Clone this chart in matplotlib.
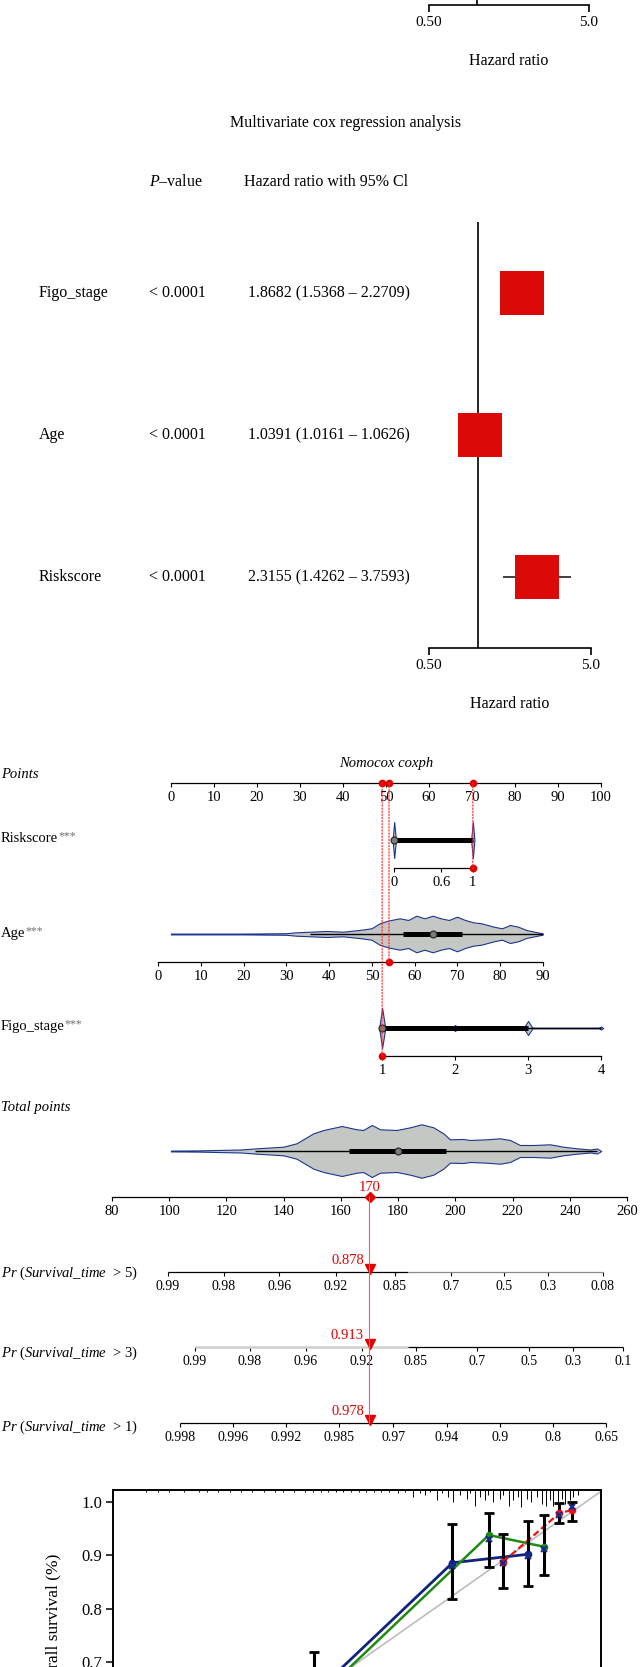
import numpy as np
import matplotlib
matplotlib.use('Agg')
import matplotlib.pyplot as plt
from matplotlib.patches import ConnectionPatch
from matplotlib.ticker import NullLocator
from matplotlib.transforms import blended_transform_factory

# forest plot (multivariate cox)
variables = ['Figo_stage', 'Age', 'Riskscore']
p_values = ['< 0.0001', '< 0.0001', '< 0.0001']
hr = [1.8682, 1.0391, 2.3155]
hr_low = [1.5368, 1.0161, 1.4262]
hr_high = [2.2709, 1.0626, 3.7593]

# nomogram scales
points_ticks = list(range(0, 101, 10))
risk_ticks = [0, 0.6, 1]
risk_range, risk_points = [0, 1], [51.9, 70.2]
age_ticks = list(range(0, 91, 10))
age_range, age_points = [0, 90], [-3.0, 86.5]
figo_ticks = [1, 2, 3, 4]
figo_range, figo_points = [1, 4], [49.1, 100.0]
total_ticks = list(range(80, 261, 20))
patient_risk, patient_age, patient_figo = 1, 54, 1
patient_total = 170

# violin outlines (value, half width) and box stats
risk_grid = [-0.02, 0.0, 0.02, 0.05, 0.95, 0.98, 1.0, 1.02]
risk_width = [0, 18, 2, 0.2, 0.2, 2, 18, 0]
risk_box = dict(q1=0, q3=1, med=0, lo=0, hi=1)
age_grid = [3, 20, 30, 32.2, 35.6, 39.4, 43.2, 47.0, 49.9, 51.8, 53.7, 56.5, 58.5, 60.4,
            62.3, 64.2, 66.1, 68.0, 69.9, 71.8, 73.7, 75.6, 78.5, 80.4, 82.3, 84.2, 86.1,
            88.0, 89.9]
age_width = [0.4, 0.4, 0.8, 1.7, 2.3, 3.0, 2.3, 4.0, 5.7, 10.7, 13.3, 15.7, 14.0, 18.3,
             15.7, 18.3, 15.7, 14.0, 17.3, 14.0, 11.7, 10.7, 7.3, 5.7, 9.0, 7.3, 4.0, 2.3, 0.7]
age_box = dict(q1=57.2, q3=71.0, med=64.3, lo=35.5, hi=90)
figo_grid = [0.96, 1.0, 1.04, 1.1, 1.96, 2.0, 2.04, 2.94, 3.0, 3.06, 3.97, 4.0, 4.03]
figo_width = [0, 20, 1.5, 0.3, 0.3, 3, 0.3, 0.3, 7, 0.3, 0.3, 1.5, 0]
figo_box = dict(q1=1, q3=3, med=1, lo=1, hi=4)
total_grid = [100.6, 110, 125, 130.6, 139.9, 144.5, 150.4, 153.9, 160.3, 165.5, 167.8,
              170.8, 173.7, 179.5, 184.2, 188.2, 192.3, 195.8, 198.1, 202.8, 205.1, 211.0,
              215.6, 219.1, 222.6, 227.3, 233.1, 237.7, 242.4, 247.1, 249.5, 251]
total_width = [0.4, 0.6, 1.5, 2.7, 4.3, 7.7, 17.7, 21, 25, 21.7, 21, 26, 21.7, 21, 23.7,
               26.7, 23.7, 17.7, 11.7, 12, 11, 11.7, 12.7, 11, 6, 6, 6.7, 4.3, 2.7, 1.5,
               2.5, 0]
total_box = dict(q1=162.8, q3=196.7, med=180, lo=130, hi=249.5)

# survival probability scales (tick label, position in total points)
pr_titles = ['5', '3', '1']
pr5_labels = ['0.99', '0.98', '0.96', '0.92', '0.85', '0.7', '0.5', '0.3', '0.08']
pr5_pos = [99.6, 119.1, 138.4, 158.3, 178.9, 198.5, 217.0, 232.4, 251.6]
pr3_labels = ['0.99', '0.98', '0.96', '0.92', '0.85', '0.7', '0.5', '0.3', '0.1']
pr3_pos = [109.0, 128.2, 147.8, 167.3, 186.2, 207.5, 225.7, 241.1, 258.6]
pr1_labels = ['0.998', '0.996', '0.992', '0.985', '0.97', '0.94', '0.9', '0.8', '0.65']
pr1_pos = [103.8, 122.3, 140.9, 159.4, 178.3, 197.1, 215.6, 234.2, 252.7]
pr_pointer = ['0.878', '0.913', '0.978']

# calibration curves
cal5_pred = [0.641, 0.824, 0.924]
cal5_obs = [0.639, 0.886, 0.902]
cal5_lo = [0.559, 0.818, 0.842]
cal5_hi = [0.719, 0.959, 0.964]
cal5_corr = [0.630, 0.880, 0.898]
cal3_pred = [0.600, 0.872, 0.945]
cal3_obs = [0.570, 0.938, 0.916]
cal3_lo = [0.490, 0.878, 0.863]
cal3_hi = [0.640, 0.979, 0.976]
cal3_corr = [0.560, 0.930, 0.912]
cal1_pred = [0.891, 0.965, 0.982]
cal1_obs = [0.888, 0.979, 0.985]
cal1_lo = [0.839, 0.961, 0.965]
cal1_hi = [0.940, 0.998, 1.000]
cal1_corr = [0.886, 0.975, 0.990]
rug_pred = [0.42, 0.435, 0.45, 0.47, 0.49, 0.50, 0.515, 0.53, 0.545, 0.56, 0.575, 0.59,
            0.60, 0.615, 0.63, 0.64, 0.65, 0.66, 0.67, 0.68, 0.69, 0.70, 0.71, 0.72, 0.73,
            0.74, 0.752, 0.761, 0.772, 0.781, 0.788, 0.794, 0.803, 0.810, 0.818, 0.825,
            0.834, 0.843, 0.847, 0.854, 0.860, 0.867, 0.871, 0.878, 0.887, 0.891, 0.898,
            0.904, 0.911, 0.915, 0.922, 0.928, 0.935, 0.942, 0.948, 0.953, 0.957, 0.963,
            0.968, 0.972, 0.979, 0.983, 0.990]
rug_n = [1] * 26 + [2, 1, 4, 2, 3, 1, 6, 2, 4, 7, 3, 5, 2, 9, 4, 6, 3, 7, 5, 3, 9, 6, 4,
                    10, 5, 7, 4, 8, 9, 6, 9, 7, 5, 8, 6, 4, 3]

W, H = 640, 1667
RED = '#e00000'
plt.rcParams['font.family'] = ['Liberation Serif', 'DejaVu Serif']
plt.rcParams['mathtext.fontset'] = 'custom'
plt.rcParams['mathtext.rm'] = 'Liberation Serif'
plt.rcParams['mathtext.it'] = 'Liberation Serif:italic'

fig = plt.figure(figsize=(W / 100, H / 100), dpi=100)


def px_ax(x0, y0, x1, y1):
    ax = fig.add_axes([x0 / W, 1 - y1 / H, (x1 - x0) / W, (y1 - y0) / H])
    ax.patch.set_alpha(0)
    return ax


def fy(y):
    return 1 - y / H


def forest_axis(ax):
    ax.set_xscale('log')
    ax.set_xlim(0.5, 5)
    for s in ['top', 'right', 'left']:
        ax.spines[s].set_visible(False)
    ax.spines['bottom'].set_linewidth(1.2)
    ax.set_xticks([0.5, 5])
    ax.set_xticklabels(['0.50', '5.0'])
    ax.xaxis.set_minor_locator(NullLocator())
    ax.tick_params(axis='x', direction='out', length=5, width=1.2, labelsize=11, pad=3)
    ax.set_yticks([])
    ax.axvline(1, color='black', lw=1.2)
    ax.set_xlabel('Hazard ratio', fontsize=11.5, labelpad=17)


# tail of the previous forest plot
ax_a = px_ax(429, -60, 589, 5)
forest_axis(ax_a)

# multivariate forest plot
ax_b = px_ax(429, 222, 591, 648)
forest_axis(ax_b)
rows = np.arange(len(variables))
ax_b.set_ylim(len(variables) - 0.5, -0.5)
ax_b.hlines(rows, hr_low, hr_high, color='#404040', lw=1.4, zorder=2)
ax_b.plot(hr, rows, 's', ms=31.5, color='#dc0909', mew=0, zorder=3, linestyle='none')

fig.text(346 / W, fy(123), 'Multivariate cox regression analysis', ha='center', va='center',
         fontsize=11.5)
fig.text(149 / W, fy(182), r'$\mathit{P}$–value', ha='left', va='center', fontsize=11.5)
fig.text(244 / W, fy(182), 'Hazard ratio with 95% Cl', ha='left', va='center', fontsize=11.5)
tr = blended_transform_factory(fig.transFigure, ax_b.transData)
for i, name in enumerate(variables):
    ax_b.text(39 / W, i, name, transform=tr, ha='left', va='center', fontsize=11.5)
    ax_b.text(149 / W, i, p_values[i], transform=tr, ha='left', va='center', fontsize=11.5)
    ax_b.text(248 / W, i, f'{hr[i]:.4f} ({hr_low[i]:.4f} – {hr_high[i]:.4f})', transform=tr,
              ha='left', va='center', fontsize=11.5)

# nomogram
PTS_X0, PTS_X1 = 171, 601


def pts_px(p):
    return PTS_X0 + p * (PTS_X1 - PTS_X0) / 100.0


def nomo_axis(ax, lo, hi, ticks, labels=None, size=10.5):
    for s in ['top', 'right', 'left']:
        ax.spines[s].set_visible(False)
    ax.spines['bottom'].set_linewidth(0.9)
    ax.spines['bottom'].set_bounds(lo, hi)
    ax.set_xticks(ticks)
    ax.set_xticklabels(labels if labels is not None else [str(t) for t in ticks])
    ax.tick_params(axis='x', direction='out', length=3, width=0.8, labelsize=size, pad=2.5)
    ax.set_yticks([])


def nomo_row(y_axis, rng, pts, ticks, below=28, above=22):
    ax = px_ax(pts_px(pts[0]), y_axis - below - above, pts_px(pts[1]), y_axis)
    ax.set_xlim(rng[0], rng[1])
    ax.set_ylim(-below, above)
    nomo_axis(ax, rng[0], rng[1], ticks)
    return ax


def violin(ax, grid, width, box):
    w = np.array(width)
    ax.fill_between(grid, -w, w, facecolor='#c5c7c4', edgecolor='#1b3690', lw=0.8,
                    clip_on=False, zorder=2)
    ax.hlines(0, box['lo'], box['hi'], color='black', lw=1.0, zorder=3, clip_on=False)
    ax.hlines(0, box['q1'], box['q3'], color='black', lw=3.6, zorder=3, clip_on=False)
    ax.plot(box['med'], 0, 'o', ms=5, mfc='#7d7d7d', mec='#202020', mew=0.8, zorder=4,
            clip_on=False)


ax_pts = nomo_row(783, [0, 100], [0, 100], points_ticks, below=0, above=20)
fig.text(pts_px(50) / W, fy(763), 'Nomocox coxph', ha='center', va='center', fontsize=10.5,
         style='italic')

ax_risk = nomo_row(868, risk_range, risk_points, risk_ticks)
violin(ax_risk, risk_grid, risk_width, risk_box)
ax_age = nomo_row(962, age_range, age_points, age_ticks)
violin(ax_age, age_grid, age_width, age_box)
ax_figo = nomo_row(1056, figo_range, figo_points, figo_ticks)
violin(ax_figo, figo_grid, figo_width, figo_box)

for val, ax_v, rng, pts in [(patient_risk, ax_risk, risk_range, risk_points),
                            (patient_age, ax_age, age_range, age_points),
                            (patient_figo, ax_figo, figo_range, figo_points)]:
    p = np.interp(val, rng, pts)
    y0 = ax_v.get_ylim()[0]
    con = ConnectionPatch(xyA=(p, 0), coordsA=ax_pts.transData, xyB=(val, y0),
                          coordsB=ax_v.transData, color='#ff3030', ls=(0, (1, 1.5)), lw=0.9,
                          zorder=1)
    fig.add_artist(con)
    ax_pts.plot(p, 0, 'o', ms=4.5, color=RED, clip_on=False, zorder=5)
    ax_v.plot(val, y0, 'o', ms=4.5, color=RED, clip_on=False, zorder=5)

# total points
ax_tot = px_ax(112, 1197 - 87, 627, 1197)
ax_tot.set_xlim(80, 260)
ax_tot.set_ylim(-46, 41)
nomo_axis(ax_tot, 80, 260, total_ticks)
violin(ax_tot, total_grid, total_width, total_box)
ax_tot.plot(patient_total, -46, 'D', ms=5, color=RED, clip_on=False, zorder=5)
ax_tot.annotate(str(patient_total), xy=(patient_total, -46), xytext=(0, 2.5),
                textcoords='offset points', ha='center', va='bottom', fontsize=10.5, color=RED,
                annotation_clip=False)

pr_axes = []
split = 183.5
for k, (y_axis, labels, pos) in enumerate([(1272, pr5_labels, pr5_pos),
                                            (1347, pr3_labels, pr3_pos),
                                            (1423, pr1_labels, pr1_pos)]):
    ax = px_ax(112, y_axis - 20, 627, y_axis)
    ax.set_xlim(80, 260)
    ax.set_ylim(0, 20)
    nomo_axis(ax, pos[0], pos[-1], pos, labels, size=10)
    ax.spines['bottom'].set_visible(False)
    if k == 0:
        ax.hlines(0, pos[0], split, color='black', lw=0.9, clip_on=False)
        ax.hlines(0, split, pos[-1], color='#8a8a8a', lw=0.9, clip_on=False)
    elif k == 1:
        ax.hlines(0, pos[0], split, color='#cfcfcf', lw=1.8, clip_on=False)
        ax.hlines(0, split, pos[-1], color='black', lw=0.9, clip_on=False)
    else:
        ax.hlines(0, pos[0], pos[-1], color='black', lw=0.9, clip_on=False)
    ax.plot(patient_total, 3.2, 'v', ms=6.5, color=RED, clip_on=False, zorder=5)
    ax.annotate(pr_pointer[k], xy=(patient_total, 0), xytext=(-4, 3.5),
                textcoords='offset points', ha='right', va='bottom', fontsize=10.5, color=RED,
                annotation_clip=False)
    pr_axes.append(ax)

con = ConnectionPatch(xyA=(patient_total, -46), coordsA=ax_tot.transData,
                      xyB=(patient_total, 0), coordsB=pr_axes[2].transData,
                      color='#ff5a5a', lw=0.8, zorder=1)
fig.add_artist(con)


# left labels
def left_label(y, text, stars=False, italic=False):
    t = fig.text(1 / W, fy(y), text, ha='left', va='center', fontsize=10.5,
                 style='italic' if italic else 'normal')
    if stars:
        ax_pts.annotate('***', xy=(1, 0.62), xycoords=t, ha='left', va='center', fontsize=8.5,
                        color='#707070', annotation_clip=False)


left_label(774, 'Points', italic=True)
left_label(838, 'Riskscore', stars=True)
left_label(933, 'Age', stars=True)
left_label(1026, 'Figo_stage', stars=True)
left_label(1108, 'Total points', italic=True)
for y, t in zip([1273, 1353, 1427], pr_titles):
    left_label(y, r'$\mathit{Pr}$ ($\mathit{Survival\_time}$  > ' + t + ')')

# calibration plot (lower part runs off the page)
ax_c = px_ax(113, 1490, 601, 1760)
ax_c.set_xlim(0.376, 1.02)
ax_c.set_ylim(0.516, 1.0225)
ax_c.axline((0.5, 0.5), slope=1, color='#bdbdbd', lw=1.2, zorder=1)
ax_c.vlines(rug_pred, 1 - np.array(rug_n) * 0.0064, 1, transform=ax_c.get_xaxis_transform(),
            color='black', lw=0.7)
series = [(cal5_pred, cal5_obs, cal5_lo, cal5_hi, cal5_corr, '#12237e', '-', 2.0),
          (cal3_pred, cal3_obs, cal3_lo, cal3_hi, cal3_corr, '#1f8a12', '-', 1.8),
          (cal1_pred, cal1_obs, cal1_lo, cal1_hi, cal1_corr, '#ee1111', (0, (3, 1.5)), 1.6)]
for pred, obs, lo, hi, corr, col, ls, lw in series:
    ax_c.plot(pred, obs, color=col, ls=ls, lw=lw, zorder=2)
for pred, obs, lo, hi, corr, col, ls, lw in series:
    err = [np.array(obs) - np.array(lo), np.array(hi) - np.array(obs)]
    ax_c.errorbar(pred, obs, yerr=err, fmt='none', ecolor='black', elinewidth=2.2,
                  capsize=3.5, capthick=2, zorder=3)
for pred, obs, lo, hi, corr, col, ls, lw in series:
    ax_c.plot(pred, obs, 'o', color=col, ms=4.5, zorder=4)
    ax_c.plot(pred, corr, 'x', color='#1a2a8a', ms=4.5, mew=1.5, zorder=5)
ax_c.set_yticks([0.6, 0.7, 0.8, 0.9, 1.0])
ax_c.set_yticklabels(['0.6', '0.7', '0.8', '0.9', '1.0'])
ax_c.set_xticks([0.4, 0.5, 0.6, 0.7, 0.8, 0.9, 1.0])
ax_c.set_xticklabels([])
ax_c.tick_params(axis='both', direction='out', length=5, width=1.1, labelsize=12, pad=3)
for s in ax_c.spines.values():
    s.set_linewidth(1.4)
ax_c.set_ylabel('Overall survival (%)', fontsize=12.5, labelpad=14)

fig.savefig('out.png', dpi=100)
